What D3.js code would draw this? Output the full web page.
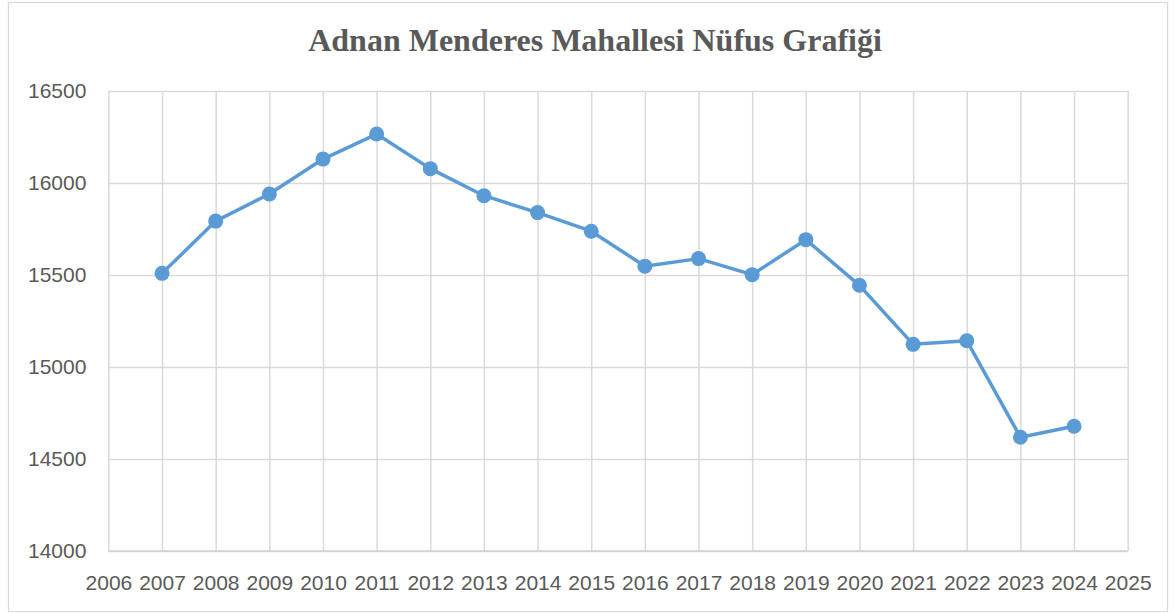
<!DOCTYPE html>
<html>
<head>
<meta charset="utf-8">
<script src="https://cdn.jsdelivr.net/npm/d3@7"></script>
<style>
  html, body { margin: 0; padding: 0; background: #fff; }
  svg { display: block; }
</style>
</head>
<body>
<svg id="chart" width="1176" height="614"></svg>
<script>
// Population by year
const years = [2007, 2008, 2009, 2010, 2011, 2012, 2013, 2014, 2015,
               2016, 2017, 2018, 2019, 2020, 2021, 2022, 2023, 2024];
const population = [15509, 15793, 15940, 16130, 16266, 16078, 15931, 15839, 15738,
                    15548, 15589, 15502, 15692, 15444, 15123, 15143, 14618, 14678];
const xTicks = d3.range(2006, 2026);
const yTicks = [14000, 14500, 15000, 15500, 16000, 16500];
const title = "Adnan Menderes Mahallesi Nüfus Grafiği";

const W = 1176, H = 614;
const plot = { left: 108.4, right: 1127.7, top: 91, bottom: 551 };
const textColor = "#595959";
const gridColor = "#d9d9d9";
const lineColor = "#5b9bd5";

const svg = d3.select("#chart");

// chart frame
svg.append("rect")
  .attr("x", 8.5).attr("y", 2.5)
  .attr("width", 1159).attr("height", 609)
  .attr("fill", "#fff").attr("stroke", gridColor).attr("stroke-width", 1.3);

const x = d3.scaleLinear().domain([2006, 2025]).range([plot.left, plot.right]);
const y = d3.scaleLinear().domain([14000, 16500]).range([plot.bottom, plot.top]);

// vertical grid + x labels
const xAxis = d3.axisBottom(x).tickValues(xTicks).tickFormat(d3.format("d"))
  .tickSize(-(plot.bottom - plot.top)).tickPadding(24);
const gx = svg.append("g").attr("transform", `translate(0,${plot.bottom})`).call(xAxis);
gx.select(".domain").remove();
gx.selectAll(".tick line").attr("stroke", gridColor).attr("stroke-width", 1.5);
gx.selectAll(".tick text")
  .attr("fill", textColor)
  .style("font-family", "'Liberation Sans', Arial, sans-serif")
  .style("font-size", "21px");

// horizontal grid + y labels
const yAxis = d3.axisLeft(y).tickValues(yTicks).tickFormat(d3.format("d"))
  .tickSize(-(plot.right - plot.left)).tickPadding(22);
const gy = svg.append("g").attr("transform", `translate(${plot.left},0)`).call(yAxis);
gy.select(".domain").remove();
gy.selectAll(".tick line").attr("stroke", gridColor).attr("stroke-width", 1.5);
gy.selectAll(".tick text")
  .attr("fill", textColor)
  .style("font-family", "'Liberation Sans', Arial, sans-serif")
  .style("font-size", "21px");

// bottom axis line
svg.append("line")
  .attr("x1", plot.left).attr("x2", plot.right)
  .attr("y1", y(14000)).attr("y2", y(14000))
  .attr("stroke", "#d0d0d0").attr("stroke-width", 1.5);

// title
svg.append("text")
  .attr("x", 595).attr("y", 51)
  .attr("text-anchor", "middle")
  .attr("fill", textColor)
  .style("font-family", "'Liberation Serif', 'Times New Roman', serif")
  .style("font-weight", "bold")
  .style("font-size", "32px")
  .text(title);

// series
const data = years.map((yr, i) => ({ year: yr, value: population[i] }));
const line = d3.line().x(d => x(d.year)).y(d => y(d.value));

svg.append("path")
  .datum(data)
  .attr("d", line)
  .attr("fill", "none")
  .attr("stroke", lineColor)
  .attr("stroke-width", 3.5)
  .attr("stroke-linejoin", "round");

svg.append("g").selectAll("circle")
  .data(data)
  .join("circle")
  .attr("cx", d => x(d.year))
  .attr("cy", d => y(d.value))
  .attr("r", 7.5)
  .attr("fill", lineColor);
</script>
</body>
</html>
